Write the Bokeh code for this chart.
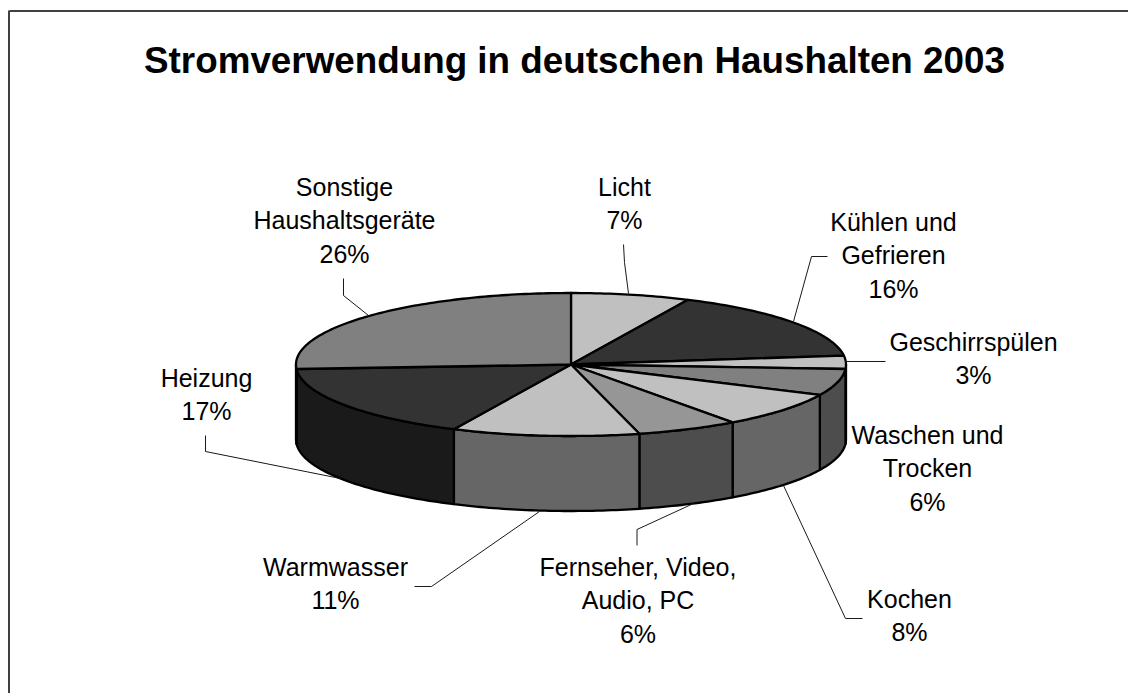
import numpy as np
from bokeh.plotting import figure
from bokeh.models import Range1d
from bokeh.core.properties import value
from bokeh.embed import file_html
from bokeh.resources import INLINE

# --- data ---
title = "Stromverwendung in deutschen Haushalten 2003"
categories = ["Licht", "Kühlen und Gefrieren", "Geschirrspülen", "Waschen und Trocken", "Kochen",
              "Fernseher, Video, Audio, PC", "Warmwasser", "Heizung", "Sonstige Haushaltsgeräte"]
shares = [7, 16, 3, 6, 8, 6, 11, 17, 26]
label_lines = [["Licht"], ["Kühlen und", "Gefrieren"], ["Geschirrspülen"], ["Waschen und", "Trocken"], ["Kochen"],
               ["Fernseher, Video,", "Audio, PC"], ["Warmwasser"], ["Heizung"], ["Sonstige", "Haushaltsgeräte"]]

# --- style / layout ---
top_colors = ["#c0c0c0", "#333333", "#c0c0c0", "#808080", "#c0c0c0", "#969696", "#c0c0c0", "#333333", "#808080"]
side_colors = ["#606060", "#1a1a1a", "#606060", "#4d4d4d", "#666666", "#4d4d4d", "#666666", "#1a1a1a", "#404040"]
CX, CY, RX, RY, DEPTH = 570.5, 364.0, 275.0, 71.5, 75.0
label_pos = [(624, 186), (893, 221), (973, 341), (927, 434), (909, 598), (637.5, 566), (335, 566), (206, 377), (344, 186)]
LINE_STEP = 33.7
leaders = [
    [(623, 244), (624, 262), (628, 293)],
    [(827, 256), (811, 256), (793, 321)],
    [(846, 361), (885, 361)],
    [],
    [(783, 485), (845, 618), (862, 618)],
    [(636.5, 545), (636.5, 529), (693, 503)],
    [(414, 586), (431, 586), (539, 511)],
    [(205, 435), (205, 451), (340, 478)],
    [(343, 278), (343, 295), (368, 315)],
]

W, H = 1128, 693
p = figure(width=W, height=H, x_range=Range1d(0, W), y_range=Range1d(H, 0),
           output_backend="svg", toolbar_location=None, min_border=0)
p.axis.visible = False
p.grid.visible = False
p.outline_line_color = None
p.background_fill_color = "white"

# frame
p.line([9, W], [10.5, 10.5], line_color="black", line_width=1.5)
p.line([8.5, 8.5], [10, H], line_color="#404040", line_width=2)

# pie geometry from the shares
edges = np.cumsum([0] + shares) / sum(shares) * 2 * np.pi


def rim(a0, a1, dy=0.0):
    t = np.linspace(a0, a1, max(int((a1 - a0) * 60), 2))
    return CX + RX * np.sin(t), CY - RY * np.cos(t) + dy


# side walls (front half only)
for i, (a0, a1) in enumerate(zip(edges[:-1], edges[1:])):
    lo, hi = max(a0, np.pi / 2), min(a1, 3 * np.pi / 2)
    if hi <= lo:
        continue
    x0, y0 = rim(lo, hi)
    x1, y1 = rim(lo, hi, DEPTH)
    p.patch(np.r_[x0, x1[::-1]], np.r_[y0, y1[::-1]], fill_color=side_colors[i],
            line_color="black", line_width=2.3, line_join="round")

# top wedges
for i, (a0, a1) in enumerate(zip(edges[:-1], edges[1:])):
    x, y = rim(a0, a1)
    p.patch(np.r_[CX, x], np.r_[CY, y], fill_color=top_colors[i],
            line_color="black", line_width=2.3, line_join="round")

# leader lines
for pts in leaders:
    if pts:
        p.line([q[0] for q in pts], [q[1] for q in pts], line_color="#1a1a1a", line_width=1)

# labels
tx, ty, tt = [], [], []
for lines, share, (x, y) in zip(label_lines, shares, label_pos):
    for k, s in enumerate(lines + [f"{share}%"]):
        tx.append(x)
        ty.append(y + k * LINE_STEP)
        tt.append(s)
p.text(tx, ty, text=tt, text_font=value("Liberation Sans"), text_font_size="25px",
       text_align="center", text_baseline="middle", text_color="black")
p.text([574], [60], text=[title], text_font=value("Liberation Sans"), text_font_size="36.8px",
       text_font_style="bold", text_align="center", text_baseline="middle", text_color="black")

open("out.html", "w").write(file_html(p, INLINE))
